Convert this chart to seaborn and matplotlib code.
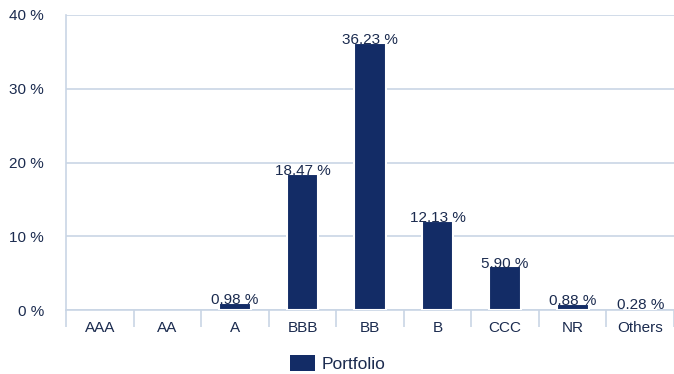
import pandas as pd
import seaborn as sns
import matplotlib.pyplot as plt
import numpy as np

ratings = ["AAA", "AA", "A", "BBB", "BB", "B", "CCC", "NR", "Others"]
portfolio = [0.0, 0.0, 0.98, 18.47, 36.23, 12.13, 5.90, 0.88, 0.28]
y_ticks = [0, 10, 20, 30, 40]

navy = "#132c66"
text_col = "#1b2b4f"
grid_col = "#c9d5e5"

sns.set_style("white")
plt.rcParams['font.family'] = ['Liberation Sans', 'DejaVu Sans']

df = pd.DataFrame({"rating": ratings, "value": portfolio})

fig = plt.figure(figsize=(6.74, 3.74), dpi=100)
ax = fig.add_axes([66/674, 1-310/374, 608/674, 295/374])

sns.barplot(data=df, x="rating", y="value", color=navy, width=0.47,
            edgecolor="white", linewidth=1.5, saturation=1, ax=ax, zorder=3,
            label="Portfolio")

# empty bars: no white edge over the axis line
for p in ax.patches:
    if p.get_height() == 0:
        p.set_linewidth(0)

for i, v in enumerate(portfolio):
    if v > 0:
        ax.text(i, v - 0.6, f"{v:.2f} %", ha="center", va="bottom",
                fontsize=11, color=text_col, zorder=4)

ax.set_ylim(0, 40)
ax.set_xlim(-0.5, len(ratings) - 0.5)
ax.set_yticks(y_ticks)
ax.set_yticklabels([f"{t} %" for t in y_ticks])
ax.yaxis.grid(True, color=grid_col, linewidth=1.2, zorder=0)
ax.set_axisbelow(True)
ax.tick_params(axis="y", left=False, length=0, pad=16, labelsize=11, labelcolor=text_col)
ax.tick_params(axis="x", which="major", bottom=False, length=0, pad=8, labelsize=11, labelcolor=text_col)
ax.set_xticks(np.arange(-0.5, len(ratings)), minor=True)
ax.tick_params(axis="x", which="minor", bottom=True, length=12, width=1.2, color=grid_col)
ax.set(xlabel=None, ylabel=None)

for s in ["top", "right"]:
    ax.spines[s].set_visible(False)
for s in ["left", "bottom"]:
    ax.spines[s].set_color(grid_col)
    ax.spines[s].set_linewidth(1.2)

ax.legend(loc="upper center", bbox_to_anchor=(0.447, -0.1), frameon=False,
          fontsize=12.5, labelcolor=text_col, handlelength=1.4, handleheight=1.0,
          handletextpad=0.4)

plt.savefig("out.png", dpi=100)
